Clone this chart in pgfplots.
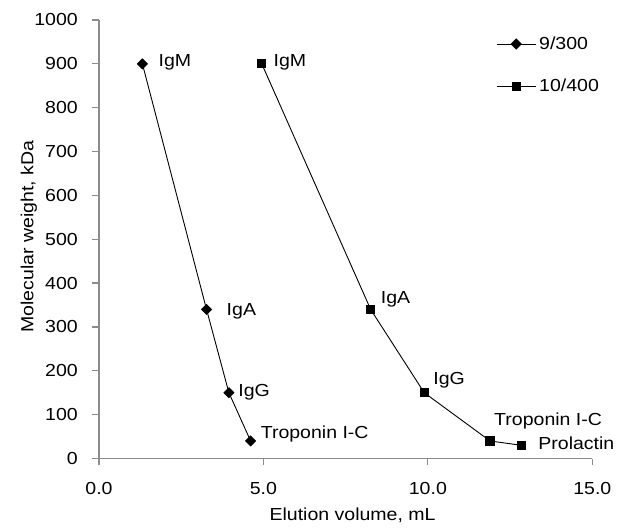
\documentclass[border=0pt]{standalone}
\usepackage{fontspec}
\setmainfont[FakeStretch=1.12]{Liberation Sans}
\usepackage{pgfplots}
\pgfplotsset{compat=1.18}
\definecolor{axgray}{RGB}{140,140,140}
\begin{document}
\fontsize{17.5}{21}\selectfont
\begin{tikzpicture}
\begin{axis}[
  scale only axis, width=493.3bp, height=438.5bp,
  xmin=0, xmax=15, ymin=0, ymax=1000,
  clip=false,
  axis x line*=bottom, axis y line*=left,
  axis line style={axgray, line width=1.2bp, -},
  xtick={0,5,10,15}, xticklabels={0.0,5.0,10.0,15.0},
  ytick={0,100,...,1000},
  tick align=outside, major tick length=7bp,
  tick style={axgray, line width=1.2bp},
  /pgf/number format/assume math mode=true,
  /pgf/number format/1000 sep={},
  xticklabel style={anchor=center, inner sep=0pt, yshift=-22.5bp},
  yticklabel style={anchor=east, inner sep=0pt, xshift=-14bp},
  xlabel={Elution volume, mL},
  ylabel={Molecular weight, kDa},
  every axis x label/.style={at={([yshift=-62.2bp]rel axis cs:0.514,0)}, anchor=base},
  every axis y label/.style={at={([xshift=-65.7bp]rel axis cs:0,0.506)}, rotate=90, anchor=base},
  legend style={draw=none, fill=none, inner sep=0pt, at={(rel axis cs:0.805,0.897)}, anchor=west, row sep=24bp, nodes={inner xsep=3bp, inner ysep=1.5bp}},
  legend cell align=left,
  legend image code/.code={\draw[mark repeat=2, mark phase=2] plot coordinates {(0bp,0bp) (19.5bp,0bp) (39bp,0bp)};},
]
\addplot[black, line width=0.9bp, mark=square*, mark size=3.5bp, mark options={rotate=45, solid, fill=black}]
  coordinates {(1.32,900) (3.27,340) (3.95,150) (4.61,40)};
\addlegendentry{9/300}
\addplot[black, line width=0.9bp, mark=square*, mark size=4.1bp, mark options={solid, fill=black}]
  coordinates {(4.95,900) (8.26,340) (9.89,150) (11.89,40) (12.85,30)};
\addlegendentry{10/400}
\coordinate (O) at (rel axis cs:0,0);
% labels series 1
\node[anchor=base west, inner sep=0pt, xshift=16bp, yshift=-2.3bp] at (axis cs:1.32,900) {IgM};
\node[anchor=base west, inner sep=0pt, xshift=20bp, yshift=-5.7bp] at (axis cs:3.27,340) {IgA};
\node[anchor=base west, inner sep=0pt, xshift=9.3bp, yshift=-4bp] at (axis cs:3.95,150) {IgG};
\node[anchor=base west, inner sep=0pt, xshift=10bp, yshift=2.4bp] at (axis cs:4.61,40) {Troponin I-C};
% labels series 2
\node[anchor=base west, inner sep=0pt, xshift=11.6bp, yshift=-2.3bp] at (axis cs:4.95,900) {IgM};
\node[anchor=base west, inner sep=0pt, xshift=10bp, yshift=5.6bp] at (axis cs:8.26,340) {IgA};
\node[anchor=base west, inner sep=0pt, xshift=9bp, yshift=8.3bp] at (axis cs:9.89,150) {IgG};
\node[anchor=base west, inner sep=0pt, xshift=4bp, yshift=15.7bp] at (axis cs:11.89,40) {Troponin I-C};
\node[anchor=base west, inner sep=0pt, xshift=16.6bp, yshift=-4.3bp] at (axis cs:12.85,30) {Prolactin};
\end{axis}
\pgfresetboundingbox
\path[use as bounding box] ([xshift=-99bp, yshift=-73.5bp]O) rectangle ++(622bp,532bp);
\end{tikzpicture}
\end{document}
